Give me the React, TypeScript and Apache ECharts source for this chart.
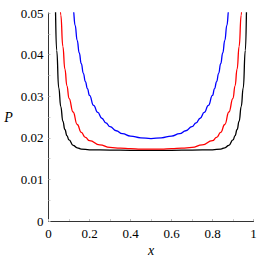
import React, { useEffect, useRef } from "react";
import * as echarts from "echarts";

const blackX = [0.02, 0.03, 0.04, 0.05, 0.06, 0.07, 0.08, 0.09, 0.10, 0.12, 0.14, 0.16, 0.20, 0.30, 0.40, 0.50, 0.60, 0.70, 0.80, 0.84, 0.86, 0.88, 0.90, 0.91, 0.92, 0.93, 0.94, 0.95, 0.96, 0.97, 0.98];
const blackP = [0.068, 0.056, 0.041, 0.032, 0.0275, 0.024, 0.022, 0.0205, 0.0195, 0.0182, 0.0176, 0.0173, 0.0171, 0.01705, 0.0170, 0.0170, 0.0170, 0.01705, 0.0171, 0.0173, 0.0176, 0.0182, 0.0195, 0.0205, 0.022, 0.024, 0.0275, 0.032, 0.041, 0.056, 0.068];

const redX = [0.04, 0.05, 0.06, 0.07, 0.08, 0.09, 0.10, 0.12, 0.14, 0.16, 0.18, 0.20, 0.25, 0.30, 0.35, 0.40, 0.45, 0.50, 0.55, 0.60, 0.65, 0.70, 0.75, 0.80, 0.82, 0.84, 0.86, 0.88, 0.90, 0.91, 0.92, 0.93, 0.94, 0.95, 0.96];
const redP = [0.072, 0.059, 0.0495, 0.042, 0.0365, 0.0325, 0.0295, 0.0262, 0.0232, 0.0213, 0.0201, 0.0193, 0.0183, 0.0177, 0.0175, 0.0174, 0.0173, 0.0173, 0.0173, 0.0174, 0.0175, 0.0177, 0.0183, 0.0193, 0.0201, 0.0213, 0.0232, 0.0262, 0.0295, 0.0325, 0.0365, 0.042, 0.0495, 0.059, 0.072];

const blueX = [0.10, 0.11, 0.12, 0.13, 0.14, 0.15, 0.16, 0.17, 0.18, 0.19, 0.20, 0.22, 0.24, 0.26, 0.28, 0.30, 0.33, 0.36, 0.40, 0.45, 0.50, 0.55, 0.60, 0.64, 0.67, 0.70, 0.72, 0.74, 0.76, 0.78, 0.80, 0.81, 0.82, 0.83, 0.84, 0.85, 0.86, 0.87, 0.88, 0.89, 0.90];
const blueP = [0.066, 0.058, 0.0510, 0.0470, 0.0434, 0.0404, 0.0378, 0.0355, 0.0335, 0.0318, 0.0302, 0.0278, 0.0261, 0.0247, 0.0236, 0.0227, 0.0217, 0.0210, 0.0204, 0.0200, 0.0198, 0.0200, 0.0204, 0.0210, 0.0217, 0.0227, 0.0236, 0.0247, 0.0261, 0.0278, 0.0302, 0.0318, 0.0335, 0.0355, 0.0378, 0.0404, 0.0434, 0.0470, 0.0510, 0.058, 0.066];

const xName = "x";
const yName = "P";

const zip = (xs: number[], ys: number[]) => xs.map((x, i) => [x, ys[i]]);

export default function App() {
  const ref = useRef<HTMLDivElement>(null);
  useEffect(() => {
    document.body.style.margin = "0";
    const chart = echarts.init(ref.current!, null, { renderer: "svg" });
    const font = "Liberation Serif";
    const axisCommon = {
      axisLine: { show: true, lineStyle: { color: "#333", width: 1 } },
      axisTick: { show: true, inside: true, length: 2, lineStyle: { color: "#bbb" } },
      minorTick: { show: true, splitNumber: 2, length: 2, lineStyle: { color: "#ccc" } },
      splitLine: { show: false },
    };
    const lineCommon = { type: "line", showSymbol: false, smooth: 0.5, smoothMonotone: "x", clip: true };
    chart.setOption({
      animation: false,
      backgroundColor: "#fff",
      textStyle: { fontFamily: font },
      grid: { left: 48.5, right: 8.5, top: 13, bottom: 41 },
      xAxis: {
        type: "value",
        min: 0,
        max: 1,
        interval: 0.2,
        ...axisCommon,
        axisLabel: { color: "#000", fontFamily: font, fontSize: 13, margin: 6 },
      },
      yAxis: {
        type: "value",
        min: 0,
        max: 0.05,
        interval: 0.01,
        ...axisCommon,
        axisLabel: { color: "#000", fontFamily: font, fontSize: 13, margin: 5 },
      },
      graphic: [
        {
          type: "text",
          x: 8.5,
          y: 117,
          style: { text: yName, fontFamily: font, fontStyle: "italic", fontSize: 14, fill: "#000", align: "center", verticalAlign: "middle" },
        },
        {
          type: "text",
          x: 151,
          y: 250,
          style: { text: xName, fontFamily: font, fontStyle: "italic", fontSize: 14, fill: "#000", align: "center", verticalAlign: "middle" },
        },
      ],
      series: [
        { ...lineCommon, data: zip(blackX, blackP), lineStyle: { color: "#000", width: 1.3 } },
        { ...lineCommon, data: zip(redX, redP), lineStyle: { color: "#ff0000", width: 1.3 } },
        { ...lineCommon, data: zip(blueX, blueP), lineStyle: { color: "#0000ff", width: 1.3 } },
      ],
    });
    return () => chart.dispose();
  }, []);
  return <div ref={ref} style={{ width: 262, height: 262 }} />;
}
